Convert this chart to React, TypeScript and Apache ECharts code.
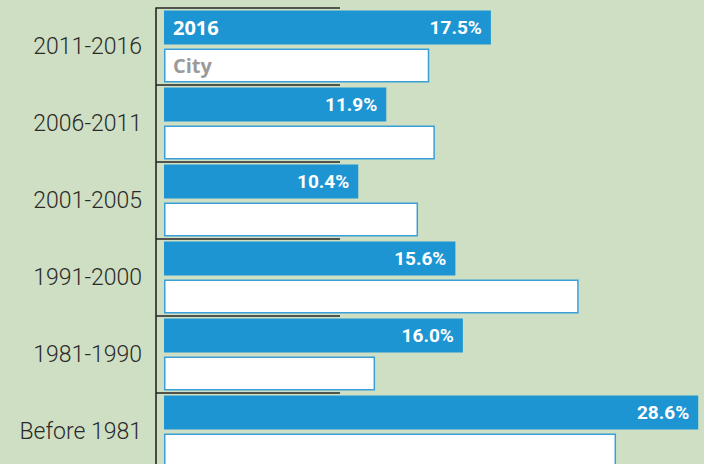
import React, { useEffect, useRef } from "react";
import * as echarts from "echarts";

const categories = ["2011-2016", "2006-2011", "2001-2005", "1991-2000", "1981-1990", "Before 1981"];
const seriesNames = ["2016", "City"];
const valuesBlue = [17.5, 11.9, 10.4, 15.6, 16.0, 28.6];
const valuesCity = [14.2, 14.5, 13.6, 22.2, 11.3, 24.2];

const BLUE = "#1e95d3";
const BG = "#cfdfc3";
const CAT_FONT = "Roboto, sans-serif";
const PCT_FONT = "Roboto, sans-serif";
const TAG_FONT = "'Open Sans', sans-serif";

const fmt = (v: number) => v.toFixed(1) + "%";

export default function App() {
  const ref = useRef<HTMLDivElement>(null);
  useEffect(() => {
    if (!ref.current) return;
    const chart = echarts.init(ref.current, null, { renderer: "svg" });
    const buildOption = (firstWidth: number | null) => ({
      animation: false,
      backgroundColor: BG,
      grid: {
        left: 156,
        top: 8,
        width: 549.7,
        height: 462,
        containLabel: false,
        outerBoundsMode: "none",
      },
      xAxis: { type: "value", min: -0.428, max: 29, show: false },
      yAxis: {
        type: "category",
        data: categories,
        inverse: true,
        axisLine: { show: true, onZero: false, lineStyle: { color: "#262626", width: 1.6 } },
        axisTick: { show: true, inside: true, length: 184, lineStyle: { color: "#262626", width: 1.5 } },
        axisLabel: {
          margin: 14,
          fontFamily: CAT_FONT,
          fontWeight: 300,
          fontSize: 23,
          color: "#2a2a2a",
        },
        splitLine: { show: false },
      },
      series: [
        {
          name: seriesNames[0],
          type: "bar",
          barWidth: 34,
          barGap: "12%",
          itemStyle: { color: BLUE },
          label: {
            show: true,
            position: "insideRight",
            distance: 9,
            fontFamily: PCT_FONT,
            fontWeight: "bold",
            fontSize: 19,
            color: "#ffffff",
            formatter: (p: any) => fmt(p.value),
          },
          data: valuesBlue.map((v, i) =>
            i === 0 && firstWidth
              ? {
                  value: v,
                  label: {
                    position: "insideLeft",
                    distance: 9,
                    width: firstWidth,
                    formatter: `{a|${seriesNames[0]}}{b|${fmt(v)}}`,
                    rich: {
                      a: { fontFamily: TAG_FONT, fontWeight: "bold", fontSize: 20, color: "#ffffff", align: "left" },
                      b: { fontFamily: PCT_FONT, fontWeight: "bold", fontSize: 19, color: "#ffffff", align: "right" },
                    },
                  },
                }
              : v
          ),
        },
        {
          name: seriesNames[1],
          type: "bar",
          barWidth: 34,
          barGap: "12%",
          itemStyle: { color: "#ffffff", borderColor: "#3a9fd8", borderWidth: 1.5 },
          label: {
            show: true,
            position: "insideLeft",
            distance: 9,
            fontFamily: TAG_FONT,
            fontWeight: "bold",
            fontSize: 20,
            color: "#9a9a9a",
            formatter: (p: any) => (p.dataIndex === 0 ? seriesNames[1] : ""),
          },
          data: valuesCity,
        },
      ],
    });
    chart.setOption(buildOption(null));
    const x0 = chart.convertToPixel({ xAxisIndex: 0 }, 0) as number;
    const x1 = chart.convertToPixel({ xAxisIndex: 0 }, valuesBlue[0]) as number;
    chart.setOption(buildOption(x1 - x0 - 18));
    return () => chart.dispose();
  }, []);
  return (
    <div
      ref={ref}
      style={{ position: "absolute", left: 0, top: 0, width: 704, height: 464, background: BG }}
    />
  );
}
